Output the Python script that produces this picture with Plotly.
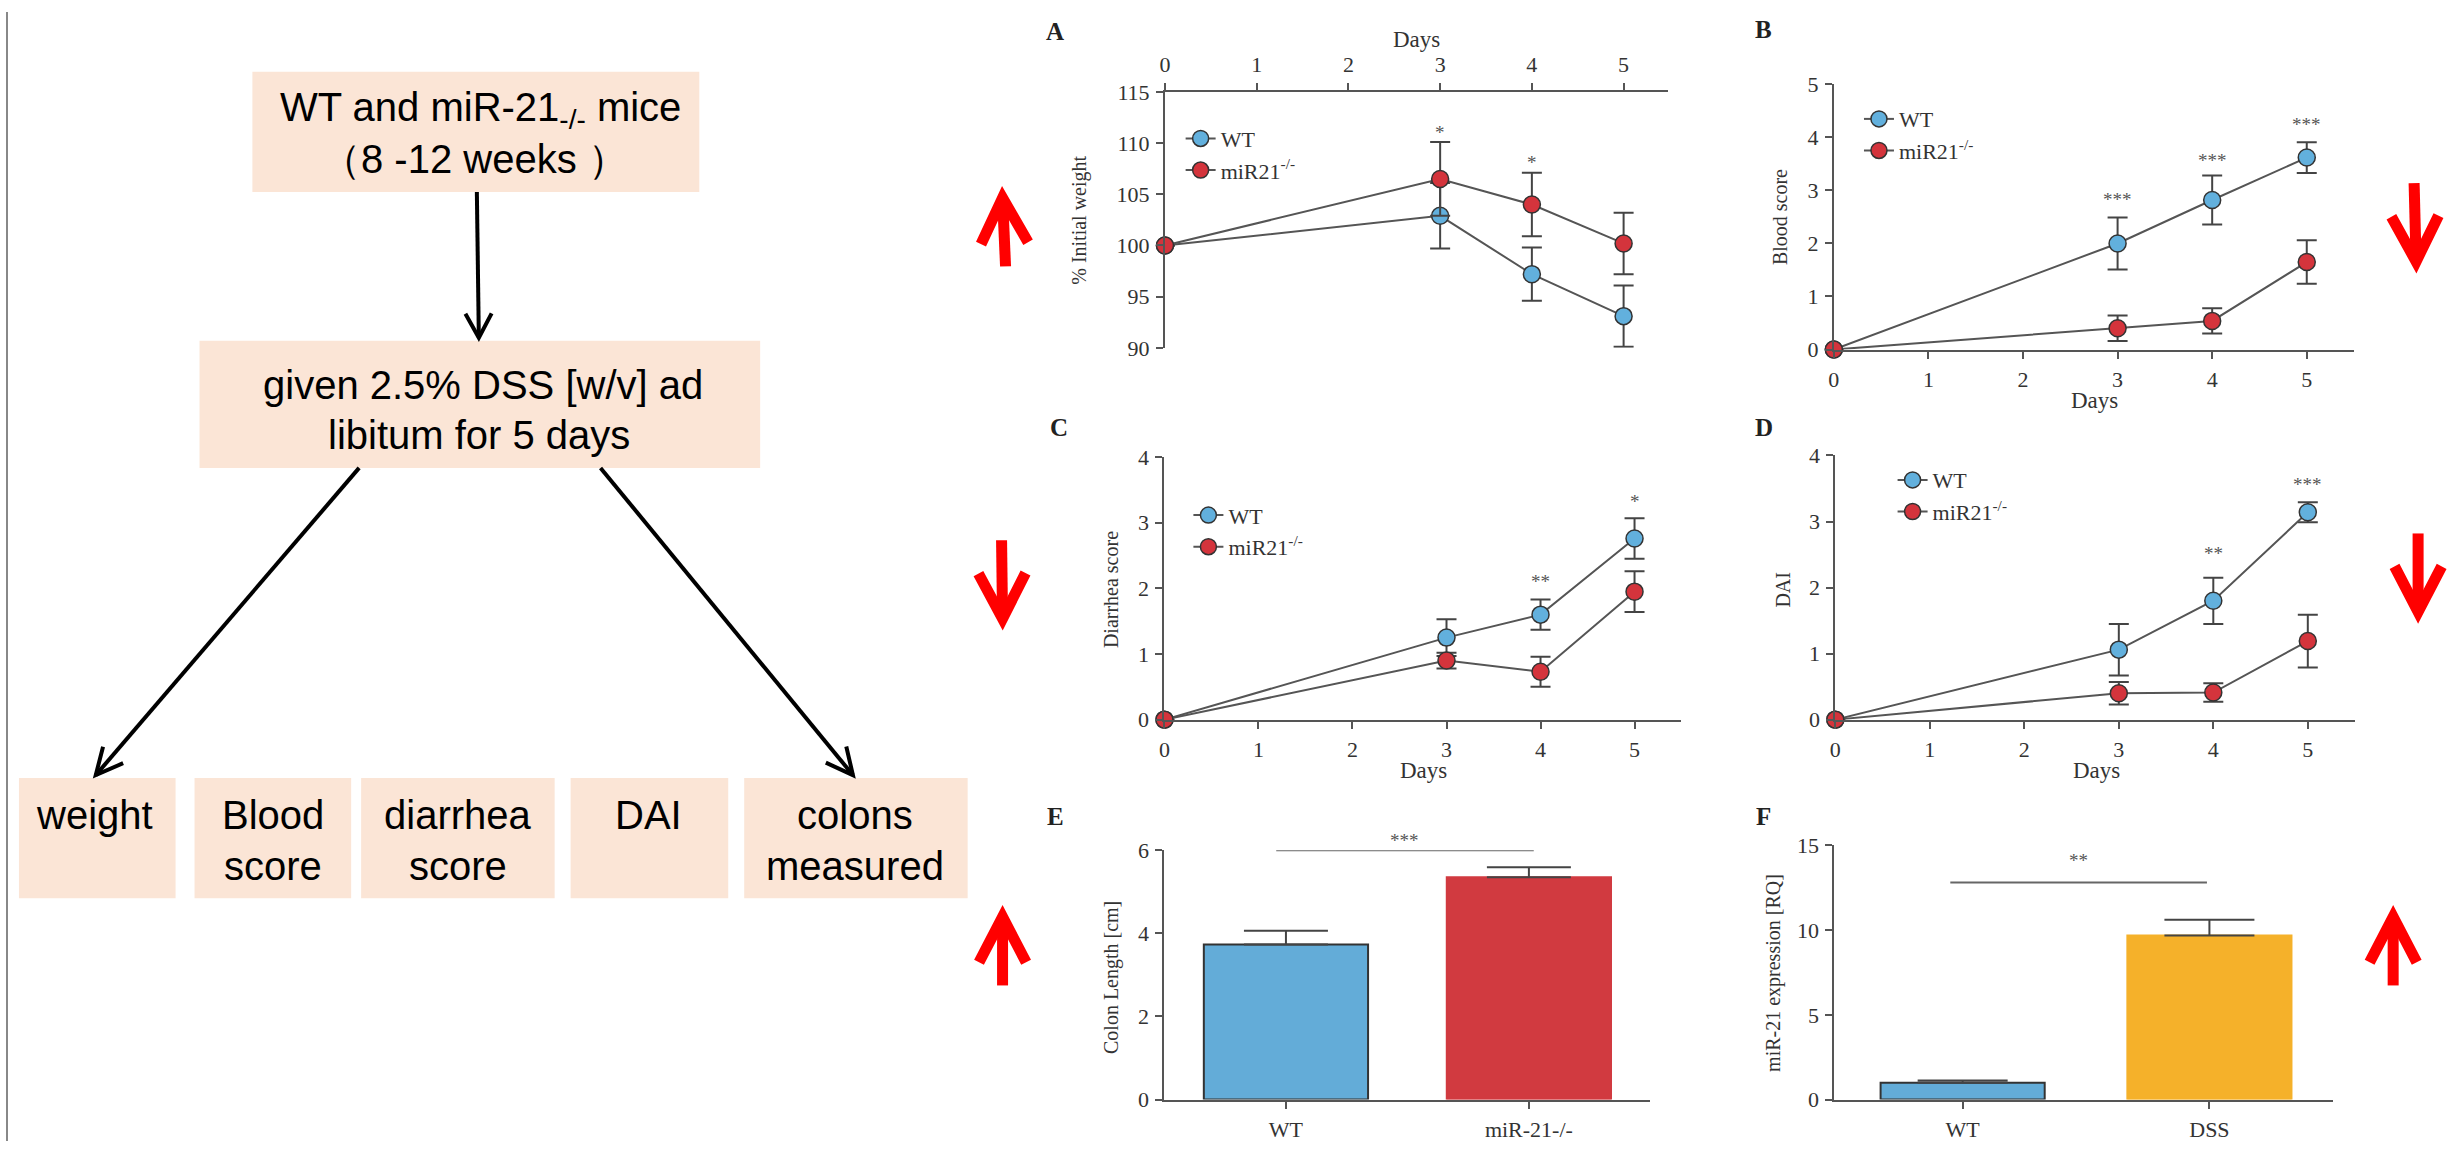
import math
import plotly.graph_objects as go

W, H = 2458, 1154

# ---------------- data ----------------
days = [0, 3, 4, 5]
day_ticks = [0, 1, 2, 3, 4, 5]

weight_wt = [100, 102.9, 97.2, 93.1]
weight_wt_err = [None, 3.2, 2.6, 3.0]
weight_ko = [100, 106.5, 104.0, 100.2]
weight_ko_err = [None, 3.6, 3.1, 3.0]
weight_sig = ["", "*", "*", ""]
weight_sig_y = [None, 111.5, 108.6, None]

blood_wt = [0, 2.0, 2.82, 3.62]
blood_wt_err = [None, 0.49, 0.46, 0.29]
blood_ko = [0, 0.40, 0.54, 1.65]
blood_ko_err = [None, 0.24, 0.24, 0.41]
blood_sig = ["", "***", "***", "***"]
blood_sig_y = [None, 2.92, 3.66, 4.34]

diar_wt = [0, 1.25, 1.60, 2.76]
diar_wt_err = [None, 0.28, 0.23, 0.31]
diar_ko = [0, 0.90, 0.73, 1.95]
diar_ko_err = [None, 0.12, 0.23, 0.31]
diar_sig = ["", "", "**", "*"]
diar_sig_y = [None, None, 2.18, 3.40]

dai_wt = [0, 1.06, 1.80, 3.14]
dai_wt_err = [None, 0.39, 0.35, 0.15]
dai_ko = [0, 0.40, 0.41, 1.19]
dai_ko_err = [None, 0.17, 0.14, 0.40]
dai_sig = ["", "", "**", "***"]
dai_sig_y = [None, None, 2.59, 3.63]

colon_cats = ["WT", "miR-21-/-"]
colon_vals = [3.73, 5.35]
colon_err = [0.33, 0.24]
colon_ymax = 6
colon_sig = "***"
colon_bracket_y = 6.0
colon_sig_y = 6.35

expr_cats = ["WT", "DSS"]
expr_vals = [1.0, 9.68]
expr_err = [0.12, 0.92]
expr_ymax = 15
expr_sig = "**"
expr_bracket_y = 12.8
expr_sig_y = 14.4

series_names = ["WT", "miR21<sup>-/-</sup>"]

flow_top = ["WT and miR-21<sub>-/-</sub> mice", "（8 -12 weeks ）"]
flow_mid = ["given 2.5% DSS [w/v] ad", "libitum for 5 days"]
flow_bottom = [["weight"], ["Blood", "score"], ["diarrhea", "score"], ["DAI"], ["colons", "measured"]]

# ---------------- style ----------------
SERIF = "Liberation Serif, Times New Roman, serif"
SANS = "Liberation Sans Narrow, Arial Narrow, Liberation Sans, Arial, sans-serif"
BLUE = "#62B0DD"
RED = "#D4343C"
BAR_BLUE = "#63ACD8"
BAR_RED = "#D13A40"
ORANGE = "#F5B12A"
PEACH = "#FBE5D6"
AX = "#555555"
TXT = "#333333"
STAR = dict(family=SERIF, size=19, color="#555555")


def fx(p):
    return p / W


def fy(p):
    return 1 - p / H


axis_common = dict(showline=True, linecolor=AX, linewidth=2, ticks="outside", ticklen=7,
                   tickwidth=2, tickcolor=AX, showgrid=False, zeroline=False,
                   tickfont=dict(family=SERIF, size=22, color=TXT), fixedrange=True,
                   ticklabelstandoff=2)

fig = go.Figure()

line_panels = [
    ("", weight_wt, weight_wt_err, weight_ko, weight_ko_err, weight_sig, weight_sig_y, "legend"),
    ("2", blood_wt, blood_wt_err, blood_ko, blood_ko_err, blood_sig, blood_sig_y, "legend2"),
    ("3", diar_wt, diar_wt_err, diar_ko, diar_ko_err, diar_sig, diar_sig_y, "legend3"),
    ("4", dai_wt, dai_wt_err, dai_ko, dai_ko_err, dai_sig, dai_sig_y, "legend4"),
]

annotations = []
shapes = []

for suf, wt, wte, ko, koe, sig, sigy, leg in line_panels:
    for name, vals, errs, col in [(series_names[0], wt, wte, BLUE), (series_names[1], ko, koe, RED)]:
        fig.add_trace(go.Scatter(
            x=days, y=vals, mode="lines+markers", name=name, legend=leg,
            xaxis="x" + suf, yaxis="y" + suf, cliponaxis=False,
            line=dict(color=AX, width=2),
            marker=dict(size=17, color=col, line=dict(color="#333333", width=1.5)),
            error_y=dict(type="data", array=errs, visible=True, color="#444444",
                         thickness=2, width=10),
        ))
    for d, s, yv in zip(days, sig, sigy):
        if s:
            annotations.append(dict(x=d, y=yv, xref="x" + suf, yref="y" + suf, text=s,
                                    showarrow=False, yshift=-5, yanchor="middle", font=STAR))

# bar panels
fig.add_trace(go.Bar(
    x=colon_cats, y=colon_vals, xaxis="x5", yaxis="y5", width=0.676, showlegend=False,
    marker=dict(color=[BAR_BLUE, BAR_RED], line=dict(color=["#333333", BAR_RED], width=2)),
    error_y=dict(type="data", array=colon_err, arrayminus=[0, 0], symmetric=False,
                 color="#444444", thickness=2, width=42),
))
fig.add_trace(go.Bar(
    x=expr_cats, y=expr_vals, xaxis="x6", yaxis="y6", width=0.665, showlegend=False,
    marker=dict(color=[BAR_BLUE, ORANGE], line=dict(color=["#333333", ORANGE], width=2)),
    error_y=dict(type="data", array=expr_err, arrayminus=[0, 0], symmetric=False,
                 color="#444444", thickness=2, width=45),
))

shapes.append(dict(type="line", xref="x5", yref="y5", x0=-0.04, x1=1.02,
                   y0=colon_bracket_y, y1=colon_bracket_y, line=dict(color="#666666", width=2)))
annotations.append(dict(x=0.49, y=colon_sig_y / colon_ymax, xref="x5", yref="y5 domain",
                        text=colon_sig, showarrow=False, yshift=-5, yanchor="middle",
                        xanchor="center", font=STAR))
shapes.append(dict(type="line", xref="x6", yref="y6", x0=-0.05, x1=0.99,
                   y0=expr_bracket_y, y1=expr_bracket_y, line=dict(color="#666666", width=2)))
annotations.append(dict(x=0.47, y=expr_sig_y / expr_ymax, xref="x6", yref="y6 domain",
                        text=expr_sig, showarrow=False, yshift=-5, yanchor="middle",
                        xanchor="center", font=STAR))

# ---------------- axes ----------------
layout = dict(
    width=W, height=H, margin=dict(l=0, r=0, t=0, b=0),
    paper_bgcolor="white", plot_bgcolor="rgba(0,0,0,0)", barmode="group",
    xaxis=dict(axis_common, domain=[fx(1161.8), fx(1665.7)], range=[0, 5.48], side="top",
               anchor="y", tickvals=day_ticks),
    yaxis=dict(axis_common, domain=[fy(343.3), fy(81.7)], range=[90, 115], anchor="x",
               tickvals=[90, 95, 100, 105, 110, 115]),
    xaxis2=dict(axis_common, domain=[fx(1832.3), fx(2353.8)], range=[0, 5.5], anchor="y2",
                tickvals=day_ticks),
    yaxis2=dict(axis_common, domain=[fy(345), fy(74)], range=[0, 5], anchor="x2", dtick=1),
    xaxis3=dict(axis_common, domain=[fx(1161.3), fx(1678.7)], range=[0, 5.49], anchor="y3",
                tickvals=day_ticks),
    yaxis3=dict(axis_common, domain=[fy(723.3), fy(455)], range=[0, 4], anchor="x3", dtick=1),
    xaxis4=dict(axis_common, domain=[fx(1833.8), fx(2354.8)], range=[0, 5.5], anchor="y4",
                tickvals=day_ticks),
    yaxis4=dict(axis_common, domain=[fy(723.3), fy(453.3)], range=[0, 4], anchor="x4", dtick=1),
    xaxis5=dict(axis_common, domain=[fx(1161.3), fx(1648.4)], range=[-0.5, 1.5], anchor="y5",
                type="category"),
    yaxis5=dict(axis_common, domain=[fy(1111.7), fy(856.7)], range=[0, colon_ymax], anchor="x5",
                dtick=2),
    xaxis6=dict(axis_common, domain=[fx(1832.8), fx(2332.5)], range=[-0.52, 1.5], anchor="y6",
                type="category"),
    yaxis6=dict(axis_common, domain=[fy(1111.7), fy(851.7)], range=[0, expr_ymax], anchor="x6",
                dtick=5),
)

leg_common = dict(xanchor="left", yanchor="top", bgcolor="rgba(0,0,0,0)", borderwidth=0,
                  font=dict(family=SERIF, size=22, color=TXT), itemwidth=30,
                  itemclick=False, itemdoubleclick=False)
legend_pos = {"legend": (1199.5, 125), "legend2": (1879.5, 105),
              "legend3": (1207.3, 510), "legend4": (1913.2, 474)}
for k, (mx, my) in legend_pos.items():
    layout[k] = dict(leg_common, x=fx(mx - 22), y=fy(my - 17))

# axis titles
ax_titles = [
    ("% Initial weight", 1076, 213, -90, 20), ("Days", 1414, 28, 0, 23),
    ("Blood score", 1779, 210, -90, 20), ("Days", 2094, 397, 0, 23),
    ("Diarrhea score", 1107.6, 590, -90, 20), ("Days", 1420.7, 775, 0, 23),
    ("DAI", 1781.7, 590, -90, 20), ("Days", 2095.8, 775, 0, 23),
    ("Colon Length [cm]", 1108.4, 986.7, -90, 20),
    ("miR-21 expression [RQ]", 1771.8, 981.7, -90, 20),
]
for t, x, y, ang, sz in ax_titles:
    annotations.append(dict(x=fx(x), y=fy(y), xref="paper", yref="paper", text=t, showarrow=False,
                            textangle=ang, xanchor="center", yanchor="middle",
                            font=dict(family=SERIF, size=sz, color=TXT)))

letters = [("A", 1052, 20), ("B", 1762, 18), ("C", 1056, 425), ("D", 1762, 425),
           ("E", 1052, 822), ("F", 1762, 822)]
for t, x, y in letters:
    annotations.append(dict(x=fx(x), y=fy(y), xref="paper", yref="paper", text="<b>" + t + "</b>",
                            showarrow=False, xanchor="center", yanchor="middle",
                            font=dict(family=SERIF, size=25, color="#222222")))

# ---------------- flowchart ----------------
shapes.append(dict(type="line", xref="paper", yref="paper", x0=fx(1), x1=fx(1), y0=0, y1=1,
                   line=dict(color="#888888", width=2)))

boxes = [(247, 61, 695, 184), (194, 336, 756, 466),
         (13, 783, 170, 906), (189, 783, 346, 906), (356, 783, 550, 906),
         (566, 783, 724, 906), (740, 783, 964, 906)]
for x0, y0, x1, y1 in boxes:
    shapes.append(dict(type="rect", xref="paper", yref="paper", x0=fx(x0), x1=fx(x1),
                       y0=fy(y1), y1=fy(y0), fillcolor=PEACH, line=dict(width=0), layer="below"))

flow_font = dict(family=SANS, size=40, color="black")


def ftext(t, x, y):
    annotations.append(dict(x=fx(x), y=fy(y), xref="paper", yref="paper", text=t, showarrow=False,
                            xanchor="center", yanchor="middle", font=flow_font))


ftext(flow_top[0], 476, 100)
ftext(flow_top[1], 470, 150)
ftext(flow_mid[0], 478, 381)
ftext(flow_mid[1], 474, 432)
bottom_cx = [89, 268, 453, 644, 851]
for lines, cx in zip(flow_bottom, bottom_cx):
    for i, t in enumerate(lines):
        ftext(t, cx, 821 + 52 * i)


def arrow(x0, y0, x1, y1, color, width, hl, ang):
    """shaft + open V head, pixel coords."""
    shapes.append(dict(type="line", xref="paper", yref="paper", x0=fx(x0), y0=fy(y0),
                       x1=fx(x1), y1=fy(y1), line=dict(color=color, width=width)))
    L = math.hypot(x1 - x0, y1 - y0)
    ux, uy = (x0 - x1) / L, (y0 - y1) / L
    a = math.radians(ang)
    pts = []
    for s in (1, -1):
        rx = ux * math.cos(s * a) - uy * math.sin(s * a)
        ry = ux * math.sin(s * a) + uy * math.cos(s * a)
        pts.append((x1 + hl * rx, y1 + hl * ry))
    path = "M {} {} L {} {} L {} {}".format(fx(pts[0][0]), fy(pts[0][1]), fx(x1), fy(y1),
                                            fx(pts[1][0]), fy(pts[1][1]))
    shapes.append(dict(type="path", xref="paper", yref="paper", path=path,
                       line=dict(color=color, width=width)))


arrow(472, 184, 474, 333, "black", 4, 28, 28)
arrow(354, 466, 90, 780, "black", 4, 30, 26)
arrow(596, 466, 849, 780, "black", 4, 30, 26)

RA = "#FF0000"
arrow(1002, 260, 999, 190, RA, 11, 52, 27)      # A up
arrow(2414, 175, 2416, 255, RA, 11, 52, 27)     # B down
arrow(998, 540, 999, 620, RA, 11, 52, 27)       # C down
arrow(2418, 533, 2418, 613, RA, 11, 52, 27)     # D down
arrow(999, 995, 999, 925, RA, 11, 52, 27)       # E up
arrow(2393, 995, 2393, 925, RA, 11, 52, 27)     # F up

layout["shapes"] = shapes
layout["annotations"] = annotations
fig.update_layout(**layout)

fig.write_html("out.html", include_plotlyjs=True, config={"displayModeBar": False})
